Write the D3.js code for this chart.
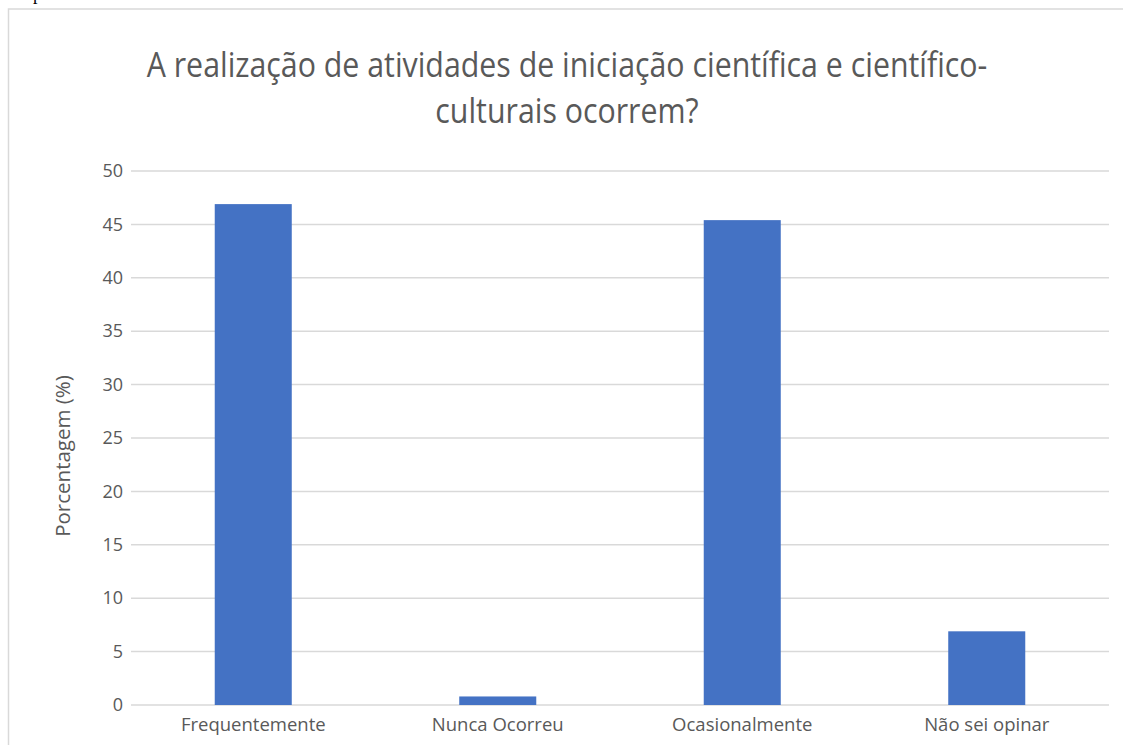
<!DOCTYPE html>
<html>
<head>
<meta charset="utf-8">
<script src="https://d3js.org/d3.v7.min.js"></script>
<style>
  body { margin: 0; background: #fff; }
  text { font-family: "Open Sans", "Noto Sans", sans-serif; }
</style>
</head>
<body>
<div id="chart"></div>
<script>
var categories = ["Frequentemente", "Nunca Ocorreu", "Ocasionalmente", "Não sei opinar"];
var values = [46.9, 0.8, 45.4, 6.9];
var yTicks = [0, 5, 10, 15, 20, 25, 30, 35, 40, 45, 50];
var titleLines = ["A realização de atividades de iniciação científica e científico-", "culturais ocorrem?"];
var yLabel = "Porcentagem (%)";

var width = 1123, height = 745;
var margin = { left: 131, right: 14, top: 171, bottom: 40 };

var svg = d3.select("#chart").append("svg")
  .attr("width", width)
  .attr("height", height);

// stray bit of the document text above the chart
svg.append("text")
  .attr("x", 33).attr("y", 0)
  .style("font-family", "Liberation Serif")
  .style("font-size", "18px")
  .attr("fill", "#000")
  .text("p");

// chart frame
svg.append("rect")
  .attr("x", 8.5).attr("y", 9)
  .attr("width", 1120).attr("height", 760)
  .attr("fill", "none")
  .attr("stroke", "#d9d9d9")
  .attr("stroke-width", 1.5);

var x = d3.scaleBand()
  .domain(categories)
  .range([margin.left, width - margin.right])
  .paddingInner(0.685)
  .paddingOuter(0.3425);

var y = d3.scaleLinear()
  .domain([0, 50])
  .range([height - margin.bottom, margin.top]);

// gridlines
svg.append("g")
  .selectAll("line")
  .data(yTicks)
  .join("line")
  .attr("x1", margin.left)
  .attr("x2", width - margin.right)
  .attr("y1", d => y(d))
  .attr("y2", d => y(d))
  .attr("stroke", "#d9d9d9")
  .attr("stroke-width", 1.5);

// y tick labels
var yAxis = svg.append("g")
  .attr("transform", "translate(" + (margin.left - 8) + ",0)")
  .call(d3.axisLeft(y).tickValues(yTicks).tickSize(0).tickPadding(0));
yAxis.select(".domain").remove();
yAxis.selectAll("text")
  .style("font-family", "Open Sans")
  .style("font-size", "18px")
  .attr("fill", "#595959");

// bars
svg.append("g")
  .selectAll("rect")
  .data(values)
  .join("rect")
  .attr("x", (d, i) => x(categories[i]))
  .attr("width", x.bandwidth())
  .attr("y", d => y(d))
  .attr("height", d => y(0) - y(d))
  .attr("fill", "#4472c4");

// category labels
var xAxis = svg.append("g")
  .attr("transform", "translate(0," + (height - margin.bottom) + ")")
  .call(d3.axisBottom(x).tickSize(0).tickPadding(13));
xAxis.select(".domain").remove();
xAxis.selectAll("text")
  .style("font-family", "Open Sans")
  .style("font-size", "18.5px")
  .attr("fill", "#595959");

// title: Calibri-like proportions, so squeeze Open Sans horizontally
var titleY = [77, 123];
var sx = 1;
titleLines.forEach(function (t, i) {
  var el = svg.append("text")
    .attr("text-anchor", "middle")
    .attr("fill", "#595959")
    .style("font-size", "34px")
    .text(t);
  if (i === 0) sx = 841 / el.node().getComputedTextLength();
  el.attr("transform", "translate(567," + titleY[i] + ") scale(" + sx + ",1)");
});

// y axis title
svg.append("text")
  .attr("transform", "translate(70," + 456 + ") rotate(-90)")
  .attr("text-anchor", "middle")
  .attr("fill", "#595959")
  .style("font-size", "20.5px")
  .text(yLabel);
</script>
</body>
</html>
